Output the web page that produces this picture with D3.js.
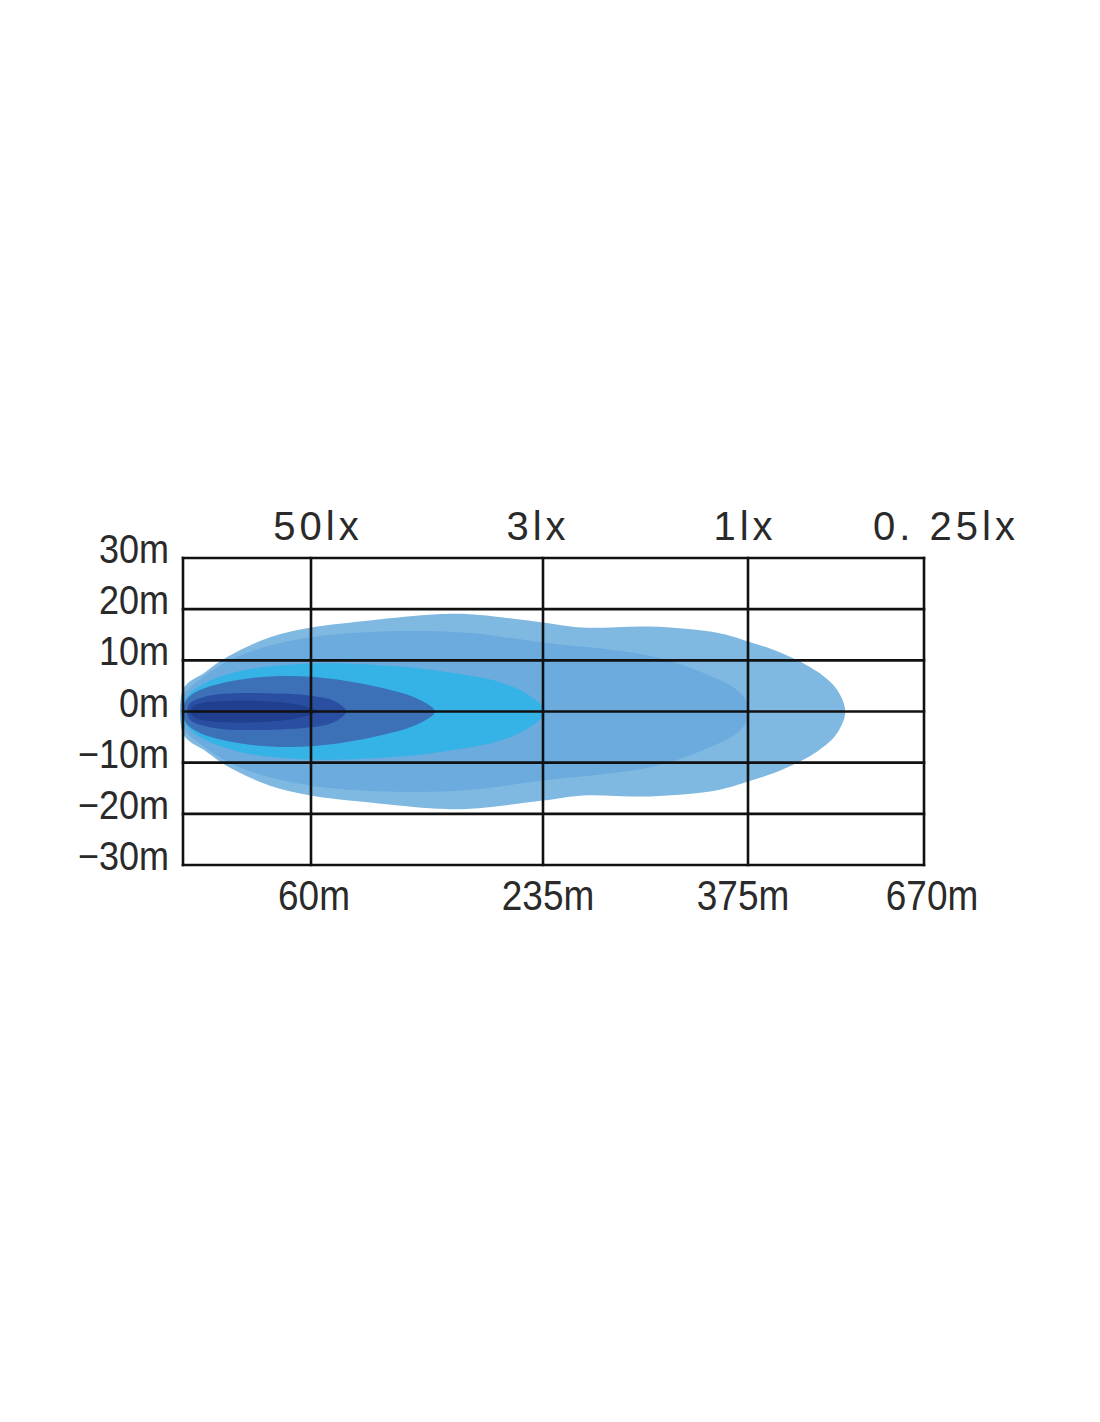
<!DOCTYPE html>
<html>
<head>
<meta charset="utf-8">
<script src="https://cdn.jsdelivr.net/npm/d3@7"></script>
<style>
  body { margin: 0; background: #fff; }
  svg text { fill: #2a2a2a; }
</style>
</head>
<body>
<div id="chart"></div>
<script>
// distance marks along the beam (m) and their labels
const distances = [0, 60, 235, 375, 670];
const distanceLabels = ["", "60m", "235m", "375m", "670m"];
const luxLabels = ["50lx", "3lx", "1lx", "0. 25lx"];
const luxDistances = [60, 235, 375, 670];

// lateral spread ticks (m)
const spreadTicks = [30, 20, 10, 0, -10, -20, -30];

// beam contours: [distance m, half width m], one per lux level
const beam025 = [
  [-1.4, 0], [0, 4.3], [3.3, 5.9], [9.4, 7.4], [17.3, 9.8], [25.3, 11.7],
  [40.8, 14.5], [60, 16.4], [104.5, 17.8], [155, 19.0], [180, 19.0],
  [235, 17.4], [262, 16.4], [308, 16.6], [354, 15.4], [375, 13.7],
  [434, 11.3], [491, 7.8], [524, 4.3], [538, 0]
];
const beam1 = [
  [-0.5, 0], [0.9, 3.5], [8, 6.3], [25.3, 10.7], [60, 14.5], [165, 15.6],
  [235, 13.5], [308, 10.9], [342, 7.8], [369.5, 3.7], [377, 0]
];
const beam3 = [
  [0, 0], [1.4, 2.5], [8, 5.0], [26.7, 7.9], [60, 9.4], [127, 8.8],
  [165, 7.6], [202.6, 5.7], [225, 3.1], [236.4, 0]
];
const beam10 = [
  [0.3, 0], [1.4, 2.2], [8, 4.2], [31.4, 6.5], [60, 6.8], [112, 4.7],
  [142, 2.3], [153.5, 0]
];
const beam50 = [
  [1.9, 0], [3.3, 1.6], [8, 2.6], [20, 3.5], [45.5, 3.5], [60, 3.1],
  [78, 2.0], [86.4, 0]
];
const beamCore = [
  [3.3, 0], [6.1, 1.3], [22, 2.1], [45.5, 1.8], [57.2, 1.0], [65.3, 0]
];

const beams = [beam025, beam1, beam3, beam10, beam50, beamCore];
const beamColors = ["#7fb9e2", "#6cabde", "#35b2e6", "#3c70b7", "#2a4fa2", "#203f8e"];

const width = 1100,
  height = 1422;

const labelFont = "'Liberation Sans', Arial, sans-serif";

const svg = d3
  .select("#chart")
  .append("svg")
  .attr("width", width)
  .attr("height", height);

// x axis is not linear: each segment between marks gets its own stretch
const x = d3
  .scaleLinear()
  .domain(distances)
  .range([183, 311, 543, 748, 924]);

const y = d3.scaleLinear().domain([-30, 30]).range([865, 558]);

// closed outline: top edge left to right, bottom edge back again
const outline = d3
  .line()
  .x((d) => x(d[0]))
  .y((d) => y(d[1]))
  .curve(d3.curveCatmullRomClosed.alpha(0.5));

function contour(pts) {
  const bottom = pts
    .slice(1, -1)
    .reverse()
    .map((d) => [d[0], -d[1]]);
  return outline(pts.concat(bottom));
}

svg
  .append("g")
  .attr("class", "beams")
  .selectAll("path")
  .data(beams)
  .enter()
  .append("path")
  .attr("d", contour)
  .style("fill", (d, i) => beamColors[i]);

// grid
const grid = svg.append("g").attr("class", "grid");

grid
  .selectAll("line.h")
  .data(spreadTicks)
  .enter()
  .append("line")
  .attr("class", "h")
  .attr("x1", x(0))
  .attr("x2", x(670))
  .attr("y1", (d) => y(d))
  .attr("y2", (d) => y(d))
  .style("stroke", "#111")
  .style("stroke-width", 2.6)
  .style("stroke-linecap", "square");

grid
  .selectAll("line.v")
  .data(distances)
  .enter()
  .append("line")
  .attr("class", "v")
  .attr("x1", (d) => x(d))
  .attr("x2", (d) => x(d))
  .attr("y1", y(30))
  .attr("y2", y(-30))
  .style("stroke", "#111")
  .style("stroke-width", 2.6)
  .style("stroke-linecap", "square");

// left labels (condensed look via horizontal squeeze)
svg
  .append("g")
  .selectAll("text")
  .data(spreadTicks)
  .enter()
  .append("text")
  .attr("transform", (d) => "translate(169," + (y(d) + 5) + ") scale(0.9,1)")
  .attr("text-anchor", "end")
  .style("font-family", labelFont)
  .style("font-size", "40px")
  .text((d) => (d < 0 ? "\u2212" + Math.abs(d) : d) + "m");

// bottom distance labels
const bottomShift = [0, 3, 5, -5, 8];
svg
  .append("g")
  .selectAll("text")
  .data(distances)
  .enter()
  .append("text")
  .attr("transform", (d, i) => "translate(" + (x(d) + bottomShift[i]) + ",910) scale(0.88,1)")
  .attr("text-anchor", "middle")
  .style("font-family", labelFont)
  .style("font-size", "42px")
  .text((d, i) => distanceLabels[i]);

// top lux labels
const topShift = [7, -5, -3, 22];
svg
  .append("g")
  .selectAll("text")
  .data(luxDistances)
  .enter()
  .append("text")
  .attr("x", (d, i) => x(d) + topShift[i])
  .attr("y", 540)
  .attr("text-anchor", "middle")
  .style("font-family", labelFont)
  .style("font-size", "40px")
  .style("letter-spacing", "4px")
  .text((d, i) => luxLabels[i]);
</script>
</body>
</html>
